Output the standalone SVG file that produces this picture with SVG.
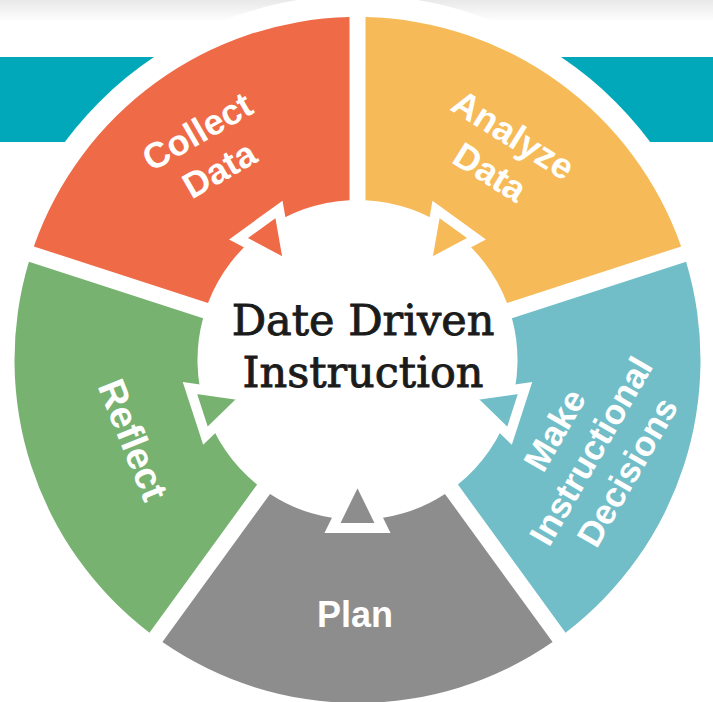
<svg xmlns="http://www.w3.org/2000/svg" xmlns:xlink="http://www.w3.org/1999/xlink" width="713" height="702" viewBox="0 0 713 702">
  <defs>
    <linearGradient id="topfade" x1="0" y1="0" x2="0" y2="1">
      <stop offset="0" stop-color="#e9e9e9"/>
      <stop offset="1" stop-color="#ffffff"/>
    </linearGradient>
    <path id="seg" d="M -195.08 -282.12 A 343 343 0 0 1 195.08 -282.12 L 87.46 -133.98 A 160 160 0 0 0 -87.46 -133.98 Z"/>
    <polygon id="tri" points="0,-117 25,-168 -25,-168"/>
  </defs>
  <style>
    .tri { stroke: #ffffff; stroke-width: 10; stroke-linejoin: miter; }
    .lbl { font-family: "Liberation Sans", Arial, sans-serif; font-weight: bold; fill: #ffffff; text-anchor: middle; }
    .title { font-family: "DejaVu Serif", "Liberation Serif", serif; font-size: 43px; fill: #1b1b1b; stroke: #1b1b1b; stroke-width: 0.9; text-anchor: middle; }
    .red { fill: #ef6a46; }
    .yellow { fill: #f6bb58; }
    .teal { fill: #71bec8; }
    .gray { fill: #8d8d8d; }
    .green { fill: #77b271; }
  </style>

  <rect x="0" y="0" width="713" height="702" fill="#ffffff"/>
  <rect x="0" y="0" width="713" height="22" fill="url(#topfade)"/>
  <rect x="0" y="57" width="713" height="85" fill="#00a8b9"/>
  <circle cx="357.5" cy="360" r="365" fill="#ffffff"/>

  <g id="collect-data" transform="translate(357.5 360)">
    <use href="#seg" class="red" transform="rotate(-36)"/>
    <use href="#tri" class="red tri" transform="rotate(-36)"/>
  </g>
  <g id="analyze-data" transform="translate(357.5 360)">
    <use href="#seg" class="yellow" transform="rotate(36)"/>
    <use href="#tri" class="yellow tri" transform="rotate(36)"/>
  </g>
  <g id="make-decisions" transform="translate(357.5 360)">
    <use href="#seg" class="teal" transform="rotate(108)"/>
    <use href="#tri" class="teal tri" transform="rotate(108)"/>
  </g>
  <g id="plan" transform="translate(357.5 360)">
    <use href="#seg" class="gray" transform="rotate(180)"/>
    <use href="#tri" class="gray tri" transform="rotate(180)"/>
  </g>
  <g id="reflect" transform="translate(357.5 360)">
    <use href="#seg" class="green" transform="rotate(252)"/>
    <use href="#tri" class="green tri" transform="rotate(252)"/>
  </g>

  <g id="labels">
    <text class="lbl" font-size="36" transform="translate(208 150) rotate(-30)"><tspan x="0" y="-9">Collect</tspan><tspan x="0" y="35">Data</tspan></text>
    <text class="lbl" font-size="36" transform="translate(502 153) rotate(32)"><tspan x="0" y="-9">Analyze</tspan><tspan x="0" y="35">Data</tspan></text>
    <text class="lbl" font-size="35" transform="translate(591 451) rotate(-60)"><tspan x="0" y="-30">Make</tspan><tspan x="0" y="12">Instructional</tspan><tspan x="0" y="54">Decisions</tspan></text>
    <text class="lbl" font-size="36" x="355" y="627">Plan</text>
    <text class="lbl" font-size="38" transform="translate(133 440) rotate(68)" x="0" y="13">Reflect</text>
  </g>

  <g id="center-title">
    <text class="title" x="363" y="335">Date Driven</text>
    <text class="title" x="363" y="387">Instruction</text>
  </g>
</svg>
